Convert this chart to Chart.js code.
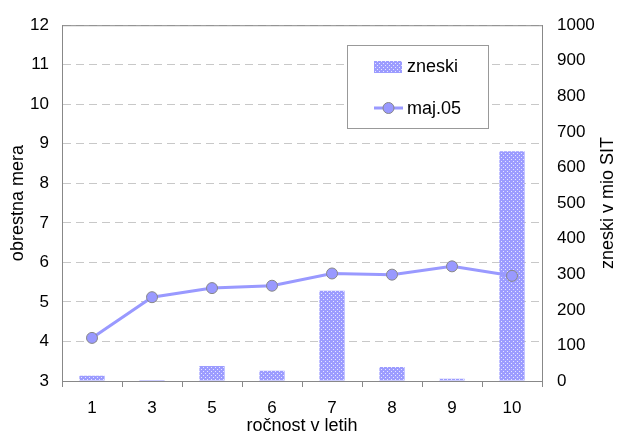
<!DOCTYPE html>
<html>
<head>
<meta charset="utf-8">
<script src="https://cdn.jsdelivr.net/npm/chart.js"></script>
<style>
  body { margin: 0; background: #fff; }
  #wrap { width: 618px; height: 437px; }
</style>
</head>
<body>
<div id="wrap"><canvas id="c"></canvas></div>
<script>
// data
var categories = ['1', '3', '5', '6', '7', '8', '9', '10'];
var zneski = [15, 3, 42, 29, 254, 39, 6, 646];
var maj05 = [4.09, 5.12, 5.35, 5.41, 5.72, 5.69, 5.90, 5.66];
var leftTicks = [3, 12, 1];
var rightTicks = [0, 1000, 100];
var titles = { x: 'ročnost v letih', y: 'obrestna mera', y2: 'zneski v mio SIT' };

var font = 'Arial, "Liberation Sans", sans-serif';
var purple = '#9999ff';

// dotted fill like the old excel pattern
function dotPattern() {
  var t = document.createElement('canvas');
  t.width = 4; t.height = 4;
  var g = t.getContext('2d');
  g.fillStyle = '#9c9cff';
  g.fillRect(0, 0, 4, 4);
  g.fillStyle = '#e6e6ff';
  g.fillRect(1, 1, 1, 1);
  g.fillRect(3, 3, 1, 1);
  return g.createPattern(t, 'repeat');
}
var pattern = dotPattern();

// border round plot area, axis titles, legend box
var boxPlugin = {
  id: 'box',
  afterDraw: function(chart) {
    var ctx = chart.ctx, a = chart.chartArea;
    ctx.save();
    ctx.strokeStyle = '#888';
    ctx.lineWidth = 1;
    ctx.strokeRect(a.left + 0.5, a.top + 0.5, a.right - a.left, a.bottom - a.top);

    // titles
    var midY = (a.top + a.bottom) / 2;
    ctx.fillStyle = '#000';
    ctx.font = '18px ' + font;
    ctx.textAlign = 'center';
    ctx.textBaseline = 'middle';
    ctx.fillText(titles.x, (a.left + a.right) / 2, 426);
    ctx.save(); ctx.translate(18, midY); ctx.rotate(-Math.PI / 2);
    ctx.fillText(titles.y, 0, 0); ctx.restore();
    ctx.save(); ctx.translate(608, midY); ctx.rotate(-Math.PI / 2);
    ctx.fillText(titles.y2, 0, 0); ctx.restore();

    // legend
    ctx.textAlign = 'left';
    ctx.fillStyle = '#fff';
    ctx.fillRect(347, 45, 141, 83);
    ctx.strokeStyle = '#999';
    ctx.strokeRect(347.5, 45.5, 141, 83);
    ctx.fillStyle = pattern;
    ctx.fillRect(374, 61, 28, 12);
    ctx.strokeStyle = purple;
    ctx.lineWidth = 3;
    ctx.beginPath(); ctx.moveTo(374, 108); ctx.lineTo(403, 108); ctx.stroke();
    ctx.beginPath(); ctx.arc(388.5, 108, 5.5, 0, Math.PI * 2);
    ctx.fillStyle = purple; ctx.fill();
    ctx.lineWidth = 1; ctx.strokeStyle = '#888'; ctx.stroke();
    ctx.fillStyle = '#000';
    ctx.font = '18px ' + font;
    ctx.fillText(chart.data.datasets[1].label, 407, 67);
    ctx.fillText(chart.data.datasets[0].label, 407, 109);
    ctx.restore();
  }
};

new Chart(document.getElementById('c'), {
  data: {
    labels: categories,
    datasets: [
      {
        type: 'line',
        label: 'maj.05',
        data: maj05,
        yAxisID: 'y',
        borderColor: purple,
        borderWidth: 3,
        backgroundColor: purple,
        pointRadius: 5.5,
        pointBorderColor: '#888',
        pointBorderWidth: 1,
        pointBackgroundColor: purple,
        tension: 0,
        order: 0
      },
      {
        type: 'bar',
        label: 'zneski',
        data: zneski,
        yAxisID: 'y2',
        backgroundColor: pattern,
        borderWidth: 0,
        barPercentage: 0.42,
        categoryPercentage: 1,
        order: 1
      }
    ]
  },
  options: {
    responsive: true,
    maintainAspectRatio: false,
    animation: false,
    layout: { padding: { top: 22, left: 0, right: 0, bottom: 0 } },
    plugins: { legend: { display: false }, tooltip: { enabled: false } },
    scales: {
      x: {
        grid: { drawOnChartArea: false, offset: true, tickLength: 6, color: '#888' },
        border: { color: '#888' },
        ticks: { color: '#000', font: { size: 17, family: font }, padding: 11 },
        afterFit: function(s) { s.height = 56; }
      },
      y: {
        position: 'left',
        min: leftTicks[0], max: leftTicks[1],
        ticks: { stepSize: leftTicks[2], color: '#000', font: { size: 17, family: font }, padding: 13 },
        grid: { color: '#c8c8c8', drawTicks: false },
        border: { color: '#888', dash: [8, 5] },
        afterFit: function(s) { s.width = 62; }
      },
      y2: {
        position: 'right',
        min: rightTicks[0], max: rightTicks[1],
        ticks: {
          stepSize: rightTicks[2], color: '#000', font: { size: 17, family: font }, padding: 15,
          callback: function(v) { return String(v); }
        },
        grid: { drawOnChartArea: false, drawTicks: false },
        border: { color: '#888' },
        afterFit: function(s) { s.width = 76; }
      }
    }
  },
  plugins: [boxPlugin]
});
</script>
</body>
</html>
